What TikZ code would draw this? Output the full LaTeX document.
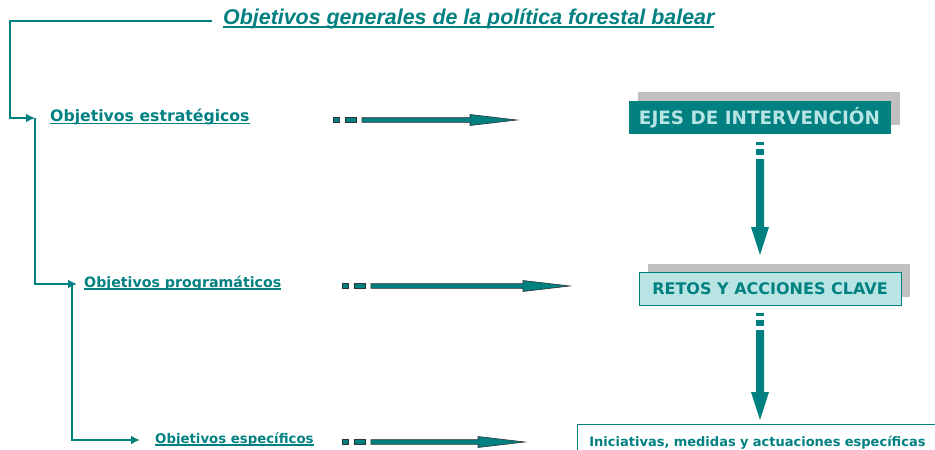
\documentclass[tikz,border=0pt]{standalone}
\usepackage{fontspec}
\setmainfont{DejaVu Sans}
\newfontfamily\titulofont{Liberation Sans}
\usepackage{tikz}
\usetikzlibrary{arrows.meta,shadows}
\definecolor{Verde}{RGB}{0,128,128}
\definecolor{VerdeClaro}{RGB}{184,228,228}
\definecolor{Gris}{RGB}{192,192,192}
\definecolor{Borde}{RGB}{50,50,50}
\newcommand{\subr}[1]{\setbox0=\hbox{#1}\rlap{\usebox0}\rule[-0.17em]{\wd0}{0.11em}}

\begin{document}
\begin{tikzpicture}[x=1pt,y=-1pt,
    rama/.style={draw=Verde,line width=2pt,-{Latex[length=9pt,width=9pt]}},
    etiq/.style={anchor=west,inner sep=0pt,text height=0.72em,text depth=0pt,text=Verde},
    caja/.style={rectangle,minimum width=262pt,minimum height=33pt,inner sep=0pt,
      general shadow={fill=Gris,shadow xshift=9pt,shadow yshift=9pt}},
    pics/flechah/.style={code={
      \path[pic actions] (0,-2.3) rectangle (6,2.3);
      \path[pic actions] (12,-2.3) rectangle (23,2.3);
      \path[pic actions] (29,-2.3) -- (#1-47,-2.3) -- (#1-47,-5.5) -- (#1,0)
        -- (#1-47,5.5) -- (#1-47,2.3) -- (29,2.3) -- cycle;}},
    pics/flechav/.style={code={
      \path[pic actions] (0,-4) rectangle (3,4);
      \path[pic actions] (7,-4) rectangle (13,4);
      \path[pic actions] (17,-4) -- (#1-28,-4) -- (#1-28,-9) -- (#1,0)
        -- (#1-28,9) -- (#1-28,4) -- (17,4) -- cycle;}}]
    \useasboundingbox (0,0) rectangle (935,450);
    \clip (0,0) rectangle (935,450);

    \node[anchor=west,inner sep=0pt,text height=0.72em,text depth=0pt,text=Verde,
      font=\titulofont\fontsize{21.4}{25}\selectfont\bfseries\itshape] (titulo) at (223,21)
      {\subr{Objetivos generales de la política forestal balear}};
    \node[etiq,font=\fontsize{15.7}{19}\selectfont\bfseries] (estrat) at (50,118) {\subr{Objetivos estratégicos}};
    \node[etiq,font=\fontsize{14.2}{17}\selectfont\bfseries] (program) at (84,284) {\subr{Objetivos programáticos}};
    \node[etiq,font=\fontsize{13.3}{16}\selectfont\bfseries] (especif) at (155,440) {\subr{Objetivos específicos}};

    \node[caja,fill=Verde,text=VerdeClaro,font=\fontsize{18.4}{22}\selectfont\bfseries] (ejes) at (759.5,117.5) {EJES DE INTERVENCIÓN};
    \node[caja,fill=VerdeClaro,draw=Verde,line width=0.8pt,text=Verde,font=\fontsize{16}{19}\selectfont\bfseries] (retos) at (770,289) {RETOS Y ACCIONES CLAVE};
    \node[rectangle,draw=Verde,line width=0.8pt,fill=white,anchor=north west,text width=350pt,align=left,
      inner xsep=12pt,inner ysep=0pt,minimum height=45pt,text=Verde,font=\fontsize{13}{16}\selectfont\bfseries] (inic) at (577,424)
      {\raisebox{12pt}{Iniciativas, medidas y actuaciones específicas}};

    \draw[rama] ([xshift=-11pt]titulo.west) -| ([xshift=-40pt]estrat.west) -- ([xshift=-15pt]estrat.west);
    \draw[rama] ([xshift=-15pt]estrat.west) |- ([xshift=-7pt]program.west);
    \draw[rama] ([xshift=-12pt]program.west) |- ([xshift=-15pt]especif.west);

    \pic[fill=Verde,draw=Borde,line width=0.6pt] (f1) at (333,120) {flechah=184};
    \pic[fill=Verde,draw=Borde,line width=0.6pt] (f2) at (342,286) {flechah=228};
    \pic[fill=Verde,draw=Borde,line width=0.6pt] (f3) at (342,442) {flechah=183};
    \pic[fill=Verde,rotate=-90] (v1) at (760,142) {flechav=113};
    \pic[fill=Verde,rotate=-90] (v2) at (760,313) {flechav=107};
\end{tikzpicture}
\end{document}
